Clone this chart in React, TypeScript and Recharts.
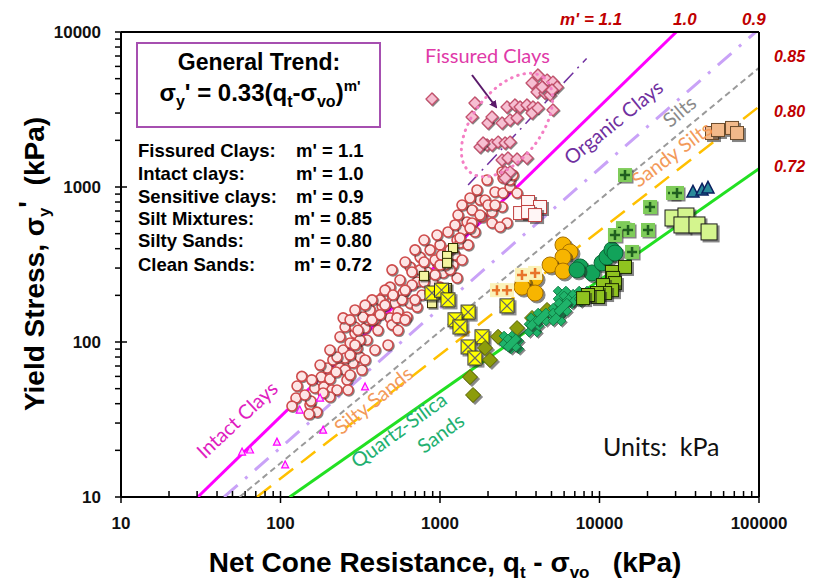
import React from 'react'
import { ScatterChart, Scatter, XAxis, YAxis } from 'recharts'

type Pt = [number, number]

// tick values (log axes)
const xTicks = [10, 20, 30, 40, 50, 60, 70, 80, 90, 100, 200, 300, 400, 500, 600, 700, 800, 900, 1000, 2000, 3000, 4000, 5000, 6000, 7000, 8000, 9000, 10000, 20000, 30000, 40000, 50000, 60000, 70000, 80000, 90000, 100000]
const yTicks = [10, 20, 30, 40, 50, 60, 70, 80, 90, 100, 200, 300, 400, 500, 600, 700, 800, 900, 1000, 2000, 3000, 4000, 5000, 6000, 7000, 8000, 9000, 10000]

// trend: sigma_y' = 0.33 (qt - svo)^m'
const trendCoef = 0.33
const trendExponents = [1.1, 1.0, 0.9, 0.85, 0.8, 0.72]
const fissuredLineRange = [1500, 8300]

// [qt - svo, sigma_y'] in kPa
const intactClays: Pt[] = [
  [136, 60], [127, 52], [125, 43.5], [118, 38.6], [153, 39.3], [155, 41.6], [169, 35.3], [151, 34.3],
  [164, 50.5], [180, 59.4], [187, 51.3], [196, 68], [204, 57.7], [210, 49], [226, 49], [213, 76.6],
  [236, 108], [247, 88.8], [236, 68], [254, 65.9], [261, 56.9], [273, 61.2], [285, 73.3], [293, 114],
  [339, 123], [348, 103], [315, 80], [324, 65.9], [254, 78.8], [204, 44.2], [185, 46.9], [273, 98.6],
  [226, 80], [354, 139], [302, 91.5], [265, 49], [439, 195], [486, 226], [561, 251], [649, 305],
  [750, 353], [866, 393], [1000, 423], [1279, 455], [1393, 528], [1477, 594], [522, 178], [586, 207],
  [718, 244], [829, 283], [958, 324], [1107, 353], [1207, 314], [1279, 259], [1045, 279], [904, 240],
  [771, 201], [649, 178], [546, 156], [486, 143], [718, 168], [621, 145], [866, 207], [1000, 226],
  [1156, 292], [433, 170], [391, 139], [254, 125], [293, 125], [329, 145], [364, 161], [421, 187],
  [1782, 824], [1588, 711], [1834, 640], [2118, 690], [2213, 929], [2483, 915], [2449, 743], [2118, 586],
  [1588, 586], [2748, 1000], [3041, 915], [2630, 586], [2377, 552], [2667, 1231], [2483, 1143], [2748, 1109],
  [2871, 1194], [2449, 1250], [375, 187], [452, 216], [500, 292], [604, 328], [697, 393], [794, 455],
  [958, 490], [1122, 513], [1297, 659], [1374, 765], [1542, 849], [1706, 957], [1915, 824], [1972, 1109],
  [1334, 435], [1242, 364], [667, 233], [578, 187], [500, 129], [408, 119], [315, 103], [273, 82.4],
  [223, 64], [247, 143], [293, 161], [339, 173], [750, 292], [794, 328], [931, 338], [1075, 314],
  [472, 95.7], [546, 119], [391, 88.8], [339, 76.6],
  [273, 139], [306, 119], [375, 139], [452, 173], [507, 201], [604, 216], [667, 283], [794, 244],
  [931, 271], [1022, 364], [1374, 338], [1500, 423], [1656, 513], [1242, 569], [1782, 659], [537, 143],
  [421, 150], [177, 71], [157, 57], [142, 45.5], [204, 88.8], [293, 95.7], [604, 139], [697, 187],
  [1000, 314], [1156, 393], [1334, 469], [1542, 543], [2000, 765], [2213, 765],
]
const fissuredClays: Pt[] = [
  [891, 3698], [1656, 3483], [1588, 2831], [2000, 2588], [2118, 2831], [2449, 2588], [2748, 2704], [3041, 2787],
  [2630, 3281], [2951, 3381], [3177, 3281], [3508, 3381], [3828, 3281], [3776, 3000], [4111, 3236], [5105, 3141],
  [1782, 1811], [1972, 1866], [2118, 1866], [2312, 1950], [2558, 1923], [2748, 1950], [2449, 1493], [2667, 1538],
  [3041, 1517], [3508, 1538], [2558, 1250], [2748, 1250], [2558, 1143], [3776, 4688], [4111, 5284], [4688, 4898],
  [5105, 4753], [5420, 4416], [4055, 4102], [4550, 4036], [4898, 3926], [4365, 4416], [5035, 4227], [1862, 1923],
]
const sensitiveClays: Pt[] = [[3565, 800], [4236, 743], [3177, 679], [3565, 690], [3945, 659]]
const softClays: Pt[] = [[132, 36.4], [95, 22.6], [107, 16.1], [177, 43.5], [339, 51.3], [185, 27], [64.4, 20.1], [57.4, 19.5]]
const clayeySilts: Pt[] = [[1207, 404], [1107, 359], [1107, 324], [794, 267], [1107, 223], [891, 178]]
const siltMixtures: Pt[] = [
  [891, 207], [1022, 216], [1122, 187], [1500, 156], [1242, 139], [1334, 125], [1834, 108], [1500, 92.9],
  [1656, 78.8], [2630, 171],
]
const siltySands: Pt[] = [[1542, 59.4], [1611, 45.5], [1915, 91.5], [2056, 76.6], [2312, 108], [3041, 123], [3776, 143], [4688, 161]]
const quartzSands: Pt[] = [
  [2667, 103], [2951, 95.7], [3828, 123], [3945, 135], [4365, 145], [5420, 156], [5821, 201], [6353, 187],
  [7228, 192], [7889, 201], [5420, 145], [5902, 168], [2825, 98.6],
]
const sandySilts: Pt[] = [[5902, 423], [6531, 381], [5902, 353], [4898, 314], [5902, 287], [3945, 259], [3311, 240], [3266, 226], [3945, 207]]
const sandySiltsB: Pt[] = [[2276, 216], [2630, 216], [3266, 271], [3945, 279]]
const denseSands: Pt[] = [[7551, 305], [8974, 279], [10375, 324], [11150, 353], [11970, 393], [12500, 375], [7228, 292]]
const cleanSands: Pt[] = [
  [11970, 283], [14450, 305], [12160, 259], [12500, 240], [10520, 233], [11970, 216], [10840, 207], [9638, 207],
  [9795, 195], [8472, 201], [7889, 192],
]
const gravellySands: Pt[] = [[14450, 1194], [20750, 743], [14030, 543], [15100, 528], [12500, 490], [20140, 528], [16000, 381], [28900, 915], [30620, 915]]
const glacialTill: Pt[] = [[38550, 929], [43950, 957], [47860, 986]]
const coarseSands: Pt[] = [[28900, 631], [34830, 650], [32890, 569], [40840, 569], [48640, 513]]
const calcSands: Pt[] = [[50740, 2229], [55340, 2333], [67750, 2404], [72800, 2229]]

const toRows = (pts: Pt[]) => pts.map(([x, y]) => ({ x, y }))

function trendSegment(m: number, from?: number, to?: number) {
  const x0 = from ?? Math.max(10, Math.pow(10 / trendCoef, 1 / m))
  const x1 = to ?? Math.min(100000, Math.pow(10000 / trendCoef, 1 / m))
  return [
    { x: x0, y: trendCoef * Math.pow(x0, m) },
    { x: x1, y: trendCoef * Math.pow(x1, m) },
  ]
}

const trendStyles = [
  { stroke: '#7030a0', strokeWidth: 1.5, strokeDasharray: '14 6 2 6' },
  { stroke: '#ff00ff', strokeWidth: 3 },
  { stroke: '#c9a2f7', strokeWidth: 3, strokeDasharray: '18 10 3 10' },
  { stroke: '#9a9a9a', strokeWidth: 2, strokeDasharray: '6 4' },
  { stroke: '#ffc000', strokeWidth: 2.5, strokeDasharray: '18 10' },
  { stroke: '#22e022', strokeWidth: 3 },
]

const isPow10 = (v: number) => Math.abs(Math.log10(v) - Math.round(Math.log10(v))) < 1e-9

function XTick(props: any) {
  const { x, y, payload } = props
  const major = isPow10(payload.value)
  return (
    <g>
      <line x1={x} x2={x} y1={y - 6} y2={major ? y + 6 : y} stroke="#000" strokeWidth={1.5} />
      {major && (
        <text x={x} y={y + 32} textAnchor="middle" fontSize={17} fontWeight="bold" fill="#111">
          {payload.value}
        </text>
      )}
    </g>
  )
}

function YTick(props: any) {
  const { x, y, payload } = props
  const major = isPow10(payload.value)
  return (
    <g>
      <line x1={x - 6} x2={major ? x + 6 : x} y1={y} y2={y} stroke="#000" strokeWidth={1.5} />
      {major && (
        <text x={x - 20} y={y + 6} textAnchor="end" fontSize={17} fontWeight="bold" fill="#111">
          {payload.value}
        </text>
      )}
    </g>
  )
}

function shapeBody(kind: string, cx: number, cy: number, fill: string, stroke: string) {
  switch (kind) {
    case 'circle':
      return <circle cx={cx} cy={cy} r={5} fill={fill} stroke={stroke} strokeWidth={1.6} />
    case 'bigCircle':
      return <circle cx={cx} cy={cy} r={8} fill={fill} stroke={stroke} strokeWidth={1} />
    case 'diamond':
      return <polygon points={`${cx},${cy - 6} ${cx + 6},${cy} ${cx},${cy + 6} ${cx - 6},${cy}`} fill={fill} stroke={stroke} strokeWidth={1.3} />
    case 'bigDiamond':
      return <polygon points={`${cx},${cy - 7.5} ${cx + 7.5},${cy} ${cx},${cy + 7.5} ${cx - 7.5},${cy}`} fill={fill} stroke={stroke} strokeWidth={1} />
    case 'smallSquare':
      return <rect x={cx - 4.5} y={cy - 4.5} width={9} height={9} fill={fill} stroke={stroke} strokeWidth={1} />
    case 'square':
      return <rect x={cx - 6.5} y={cy - 6.5} width={13} height={13} fill={fill} stroke={stroke} strokeWidth={1} />
    case 'bigSquare':
      return <rect x={cx - 8} y={cy - 8} width={16} height={16} fill={fill} stroke={stroke} strokeWidth={1} />
    case 'xSquare':
      return (
        <g>
          <rect x={cx - 7} y={cy - 7} width={14} height={14} fill={fill} stroke={stroke} strokeWidth={1} />
          <path d={`M${cx - 6.5} ${cy - 6.5}L${cx + 6.5} ${cy + 6.5}M${cx + 6.5} ${cy - 6.5}L${cx - 6.5} ${cy + 6.5}`} stroke="#666" strokeWidth={1.2} />
        </g>
      )
    case 'plusSquare':
      return (
        <g>
          <rect x={cx - 7} y={cy - 7} width={14} height={14} fill={fill} />
          <path d={`M${cx} ${cy - 5}V${cy + 5}M${cx - 5} ${cy}H${cx + 5}`} stroke={stroke} strokeWidth={2.5} />
        </g>
      )
    case 'cross':
      return (
        <g transform={`rotate(45 ${cx} ${cy})`}>
          <rect x={cx - 9} y={cy - 3.5} width={18} height={7} fill={fill} stroke={stroke} strokeWidth={0.8} />
          <rect x={cx - 3.5} y={cy - 9} width={7} height={18} fill={fill} stroke={stroke} strokeWidth={0.8} />
        </g>
      )
    case 'triangle':
      return <polygon points={`${cx},${cy - 4} ${cx + 3.5},${cy + 3} ${cx - 3.5},${cy + 3}`} fill={fill} stroke={stroke} strokeWidth={1.2} />
    case 'bigTriangle':
      return <polygon points={`${cx},${cy - 6.5} ${cx + 6},${cy + 5} ${cx - 6},${cy + 5}`} fill={fill} stroke={stroke} strokeWidth={1.5} />
    default:
      return null
  }
}

function marker(kind: string, fill: string, stroke: string, shadow = 0) {
  return (p: any) => {
    if (p.cx == null || p.cy == null) return <g />
    return (
      <g>
        {shadow > 0 && (
          <g opacity={0.55}>{shapeBody(kind, p.cx + shadow, p.cy + shadow, '#222', '#222')}</g>
        )}
        {shapeBody(kind, p.cx, p.cy, fill, stroke)}
      </g>
    )
  }
}

const series = [
  { name: 'Intact clays', data: intactClays, shape: marker('circle', '#fde6e6', '#cf4b4b', 1) },
  { name: 'Fissured clays', data: fissuredClays, shape: marker('diamond', '#f6bfd2', '#c4506c', 1) },
  { name: 'Sensitive clays', data: sensitiveClays, shape: marker('square', '#fff6f6', '#c04040', 2) },
  { name: 'Soft clays', data: softClays, shape: marker('triangle', '#fbd0fb', '#ff00ff') },
  { name: 'Clayey silts', data: clayeySilts, shape: marker('smallSquare', '#f4f4a0', '#303000', 1.5) },
  { name: 'Silt mixtures', data: siltMixtures, shape: marker('xSquare', '#ffff00', '#333', 2) },
  { name: 'Silty sands', data: siltySands, shape: marker('bigDiamond', '#8c9c0c', '#5a6400', 2) },
  { name: 'Quartz sands', data: quartzSands, shape: marker('cross', '#1fb36a', '#0d7a40', 1.5) },
  { name: 'Sandy silts', data: sandySilts, shape: marker('bigCircle', '#f7b500', '#a87000', 2) },
  { name: 'Sandy silts B', data: sandySiltsB, shape: marker('plusSquare', '#fbf2b8', '#e8742a') },
  { name: 'Dense sands', data: denseSands, shape: marker('bigCircle', '#12a35a', '#0a6a38', 2) },
  { name: 'Clean sands', data: cleanSands, shape: marker('square', '#8fc31f', '#1a2a00', 2) },
  { name: 'Gravelly sands', data: gravellySands, shape: marker('plusSquare', '#7fcc5a', '#1f5f1f', 1.5) },
  { name: 'Glacial till', data: glacialTill, shape: marker('bigTriangle', '#2a8a9a', '#0a2060') },
  { name: 'Coarse sands', data: coarseSands, shape: marker('bigSquare', '#d4f58e', '#1a1a1a', 2) },
  { name: 'Calcareous sands', data: calcSands, shape: marker('square', '#f2b98a', '#6a4a2a', 2) },
]

const annoFont = 'Lato, "Open Sans", sans-serif'
const boldFont = '"Liberation Sans", Arial, sans-serif'

function Overlay() {
  const red = '#c00000'
  return (
    <svg width={806} height={574} style={{ position: 'absolute', left: 0, top: 0, pointerEvents: 'none' }}>
      <defs>
        <marker id="arr" markerWidth="8" markerHeight="8" refX="6" refY="4" orient="auto" markerUnits="userSpaceOnUse">
          <path d="M0,0 L8,4 L0,8 z" fill="#5a1a6a" />
        </marker>
      </defs>
      {/* frame top / right */}
      <line x1={113} x2={751} y1={24} y2={24} stroke="#000" strokeWidth={2} />
      <line x1={751} x2={751} y1={24} y2={489} stroke="#000" strokeWidth={2} />

      {/* general trend box */}
      <rect x={129} y={35} width={243} height={84} fill="none" stroke="#a64fb0" strokeWidth={2} />
      <text x={251} y={62} textAnchor="middle" fontFamily={boldFont} fontWeight="bold" fontSize={23}>General Trend:</text>
      <text x={252} y={93} textAnchor="middle" fontFamily={boldFont} fontWeight="bold" fontSize={24}>
        σ<tspan fontSize={16} dy={6}>y</tspan><tspan dy={-6}>' = 0.33(q</tspan><tspan fontSize={16} dy={6}>t</tspan>
        <tspan dy={-6}>-σ</tspan><tspan fontSize={16} dy={6}>vo</tspan><tspan dy={-6}>)</tspan>
        <tspan fontSize={15} dy={-10}>m'</tspan>
      </text>

      <g fontFamily={boldFont} fontWeight="bold" fontSize={18.5} style={{ whiteSpace: 'pre' }}>
        <text x={130} y={149}>Fissured Clays:</text><text x={288} y={149}>m'  = 1.1</text>
        <text x={130} y={172}>Intact clays:</text><text x={288} y={172}>m' =  1.0</text>
        <text x={130} y={195}>Sensitive clays:</text><text x={288} y={195}>m' =  0.9</text>
        <text x={130} y={217}>Silt Mixtures:</text><text x={286} y={217}>m' = 0.85</text>
        <text x={130} y={239}>Silty Sands:</text><text x={286} y={239}>m' = 0.80</text>
        <text x={130} y={263}>Clean Sands:</text><text x={286} y={263}>m' = 0.72</text>
      </g>

      {/* m' labels */}
      <g fontFamily={boldFont} fontWeight="bold" fontStyle="italic" fill={red} style={{ whiteSpace: 'pre' }}>
        <text x={552} y={17} fontSize={17}>m'  = 1.1</text>
        <text x={665} y={17} fontSize={17}>1.0</text>
        <text x={734} y={17} fontSize={17}>0.9</text>
        <text x={766} y={54} fontSize={16}>0.85</text>
        <text x={766} y={109} fontSize={16}>0.80</text>
        <text x={766} y={164} fontSize={16}>0.72</text>
      </g>

      {/* fissured clays callout */}
      <text x={417} y={55} fontFamily={annoFont} fontSize={20} fill="#e03aa8">Fissured Clays</text>
      <line x1={464} y1={67} x2={488} y2={99} stroke="#5a1a6a" strokeWidth={2} markerEnd="url(#arr)" />
      <ellipse cx={499} cy={117} rx={60} ry={34} transform="rotate(-52 499 117)" fill="none" stroke="#f47fc4" strokeWidth={3} strokeDasharray="0.5 6" strokeLinecap="round" />

      {/* soil labels */}
      <g fontFamily={annoFont} fontSize={20}>
        <text transform="translate(610 120) rotate(-39)" textAnchor="middle" fill="#7030a0">Organic Clays</text>
        <text transform="translate(676 109) rotate(-40)" textAnchor="middle" fill="#8a8a8a">Silts</text>
        <text transform="translate(668 152) rotate(-37)" textAnchor="middle" fill="#f39a5a">Sandy Silts</text>
        <text transform="translate(234 417) rotate(-43)" textAnchor="middle" fill="#e020c0">Intact Clays</text>
        <text transform="translate(370 398) rotate(-39)" textAnchor="middle" fill="#f39a5a">Silty Sands</text>
        <text transform="translate(395 428) rotate(-36)" textAnchor="middle" fill="#22b070">Quartz-Silica</text>
        <text transform="translate(437 431) rotate(-36)" textAnchor="middle" fill="#22b070">Sands</text>
      </g>
      <text x={595} y={448} fontFamily={annoFont} fontSize={25} fill="#111" style={{ whiteSpace: 'pre' }}>Units:  kPa</text>

      {/* axis titles */}
      <text x={437} y={564} textAnchor="middle" fontFamily={boldFont} fontWeight="bold" fontSize={28} style={{ whiteSpace: 'pre' }}>
        Net Cone Resistance, q<tspan fontSize={17} dy={6}>t</tspan><tspan dy={-6}> - σ</tspan>
        <tspan fontSize={17} dy={6}>vo</tspan><tspan dy={-6}>   (kPa)</tspan>
      </text>
      <text transform="translate(36 256) rotate(-90)" textAnchor="middle" fontFamily={boldFont} fontWeight="bold" fontSize={28} style={{ whiteSpace: 'pre' }}>
        Yield Stress, σ<tspan fontSize={17} dy={6}>y</tspan><tspan dy={-12}>'</tspan><tspan dy={6}>  (kPa)</tspan>
      </text>
    </svg>
  )
}

export default function App() {
  return (
    <div style={{ position: 'relative', width: 806, height: 574, fontFamily: boldFont }}>
      <ScatterChart width={806} height={574} margin={{ top: 24, right: 55, bottom: 50, left: 53 }}>
        <XAxis
          type="number"
          dataKey="x"
          scale="log"
          domain={[10, 100000]}
          ticks={xTicks}
          interval={0}
          allowDataOverflow
          tickSize={0}
          tickMargin={0}
          tickLine={false}
          tick={<XTick />}
          axisLine={{ stroke: '#000', strokeWidth: 2 }}
          height={35}
        />
        <YAxis
          type="number"
          dataKey="y"
          scale="log"
          domain={[10, 10000]}
          ticks={yTicks}
          interval={0}
          allowDataOverflow
          tickSize={0}
          tickMargin={0}
          tickLine={false}
          tick={<YTick />}
          axisLine={{ stroke: '#000', strokeWidth: 2 }}
          width={60}
        />
        {trendExponents.map((m, i) => (
          <Scatter
            key={'trend' + m}
            data={i === 0 ? trendSegment(m, fissuredLineRange[0], fissuredLineRange[1]) : trendSegment(m)}
            line={{ ...trendStyles[i], fill: 'none' }}
            shape={() => <g />}
            isAnimationActive={false}
          />
        ))}
        {series.map((s) => (
          <Scatter key={s.name} name={s.name} data={toRows(s.data)} shape={s.shape} isAnimationActive={false} />
        ))}
      </ScatterChart>
      <Overlay />
    </div>
  )
}
